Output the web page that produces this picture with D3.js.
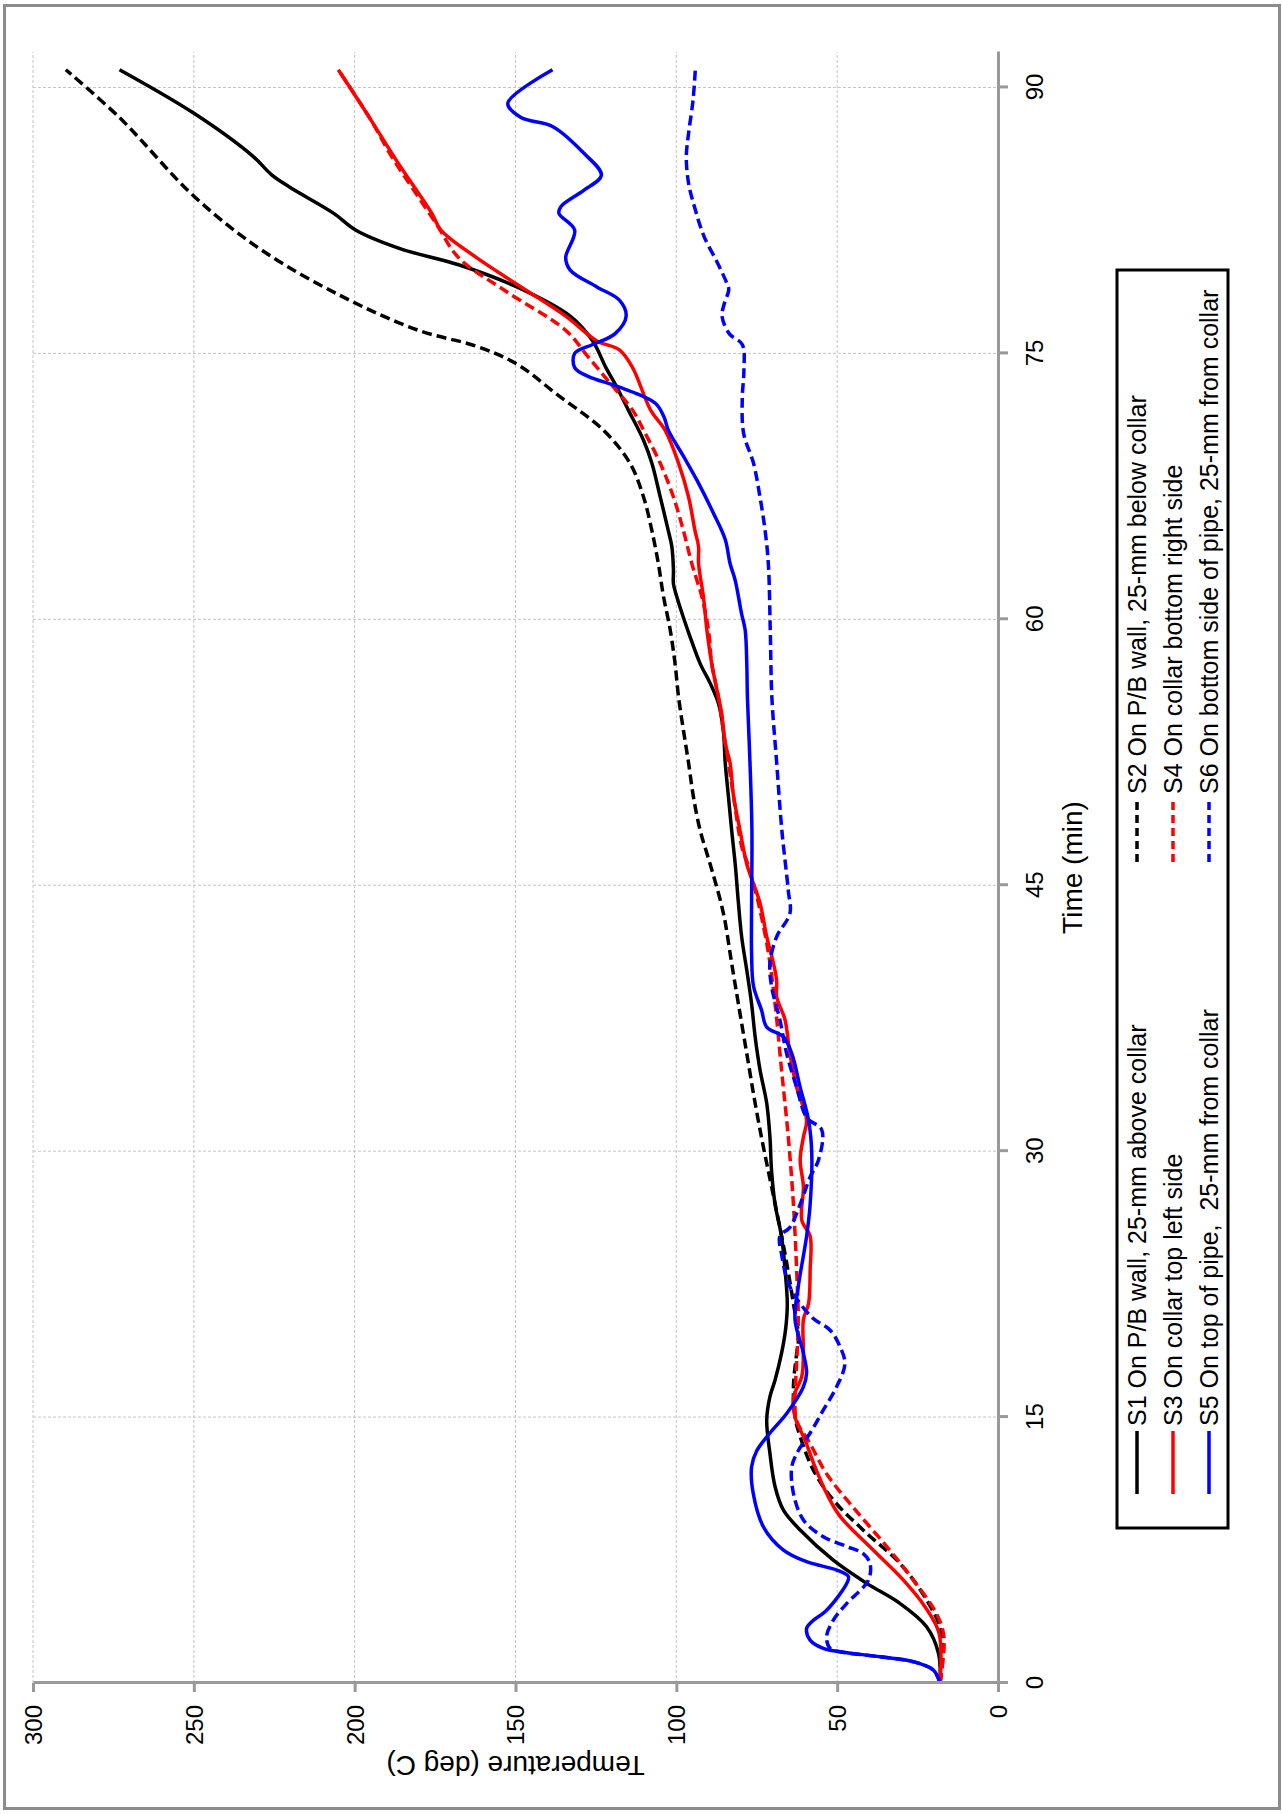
<!DOCTYPE html>
<html>
<head>
<meta charset="utf-8">
<script src="https://cdn.jsdelivr.net/npm/d3@7"></script>
<style>
  html, body { margin: 0; padding: 0; background: #fff; }
  svg { display: block; font-family: "Liberation Sans", Arial, sans-serif; }
</style>
</head>
<body>
<div id="chart"></div>
<script>
// ---------------- DATA ----------------
const timeTicks = [0, 15, 30, 45, 60, 75, 90];
const tempTicks = [0, 50, 100, 150, 200, 250, 300];
const timeDomain = [0, 92];
const tempDomain = [0, 300];
const xTitle = "Time (min)";
const yTitle = "Temperature (deg C)";

const seriesNames = [
  "S1 On P/B wall, 25-mm above collar",
  "S2 On P/B wall, 25-mm below collar",
  "S3 On collar top left side",
  "S4 On collar bottom right side",
  "S5 On top of pipe,  25-mm from collar",
  "S6 On bottom side of pipe, 25-mm from collar"
];

// [time (min), temperature (deg C)]
const s1 = [[0,18],[1.67,18.5],[3.17,22.2],[4.49,30.5],[5.62,40.8],[6.93,51.2],[8.63,61.5],[9.75,66.7],[11.07,69.3],[12.95,70.9],[14.83,71.9],[16.15,70.9],[17.09,69.3],[18.59,67.3],[20.0,66.0],[21.4,65.5],[23.3,66.2],[25.2,67.3],[27.0,69.3],[28.9,70.4],[30.8,70.9],[32.7,71.9],[34.6,74.0],[36.45,75.5],[38.3,76.6],[40.2,78.1],[42.1,79.7],[44.0,80.7],[46.2,81.7],[48.1,82.8],[50.0,83.8],[51.9,84.8],[53.75,85.4],[55.25,86.9],[56.4,89.5],[57.5,92.6],[59.0,95.7],[60.1,97.8],[61.3,99.9],[62.0,100.9],[62.8,100.9],[64.1,101.4],[65.0,102.5],[66.9,105.0],[68.8,107.6],[70.1,110.2],[71.8,114.9],[73.3,119.1],[74.2,121.9],[75.7,126.0],[77.1,133.0],[78.75,149.6],[80.0,167.7],[80.9,185.7],[81.95,199.6],[82.9,206.5],[84.4,220.4],[85.1,226.0],[86.1,231.5],[88.5,249.6],[91.0,273.1]];
const s2 = [[0,18],[2.8,17.5],[4.68,22.2],[6.75,30.5],[8.44,40.8],[10.32,51.2],[12.01,57.4],[13.89,61.5],[15.02,63.1],[16.71,63.6],[18.59,62.6],[19.5,62.0],[21.4,63.6],[24.2,66.2],[28.0,70.4],[30.2,72.9],[32.7,75.5],[35.5,78.1],[38.3,80.7],[40.6,82.8],[43.0,84.9],[44.2,86.4],[46.2,89.5],[48.1,92.6],[50.0,94.7],[51.9,96.2],[53.75,97.8],[55.6,99.3],[57.5,100.4],[59.4,101.9],[61.3,104.0],[63.15,105.6],[65.0,107.6],[66.9,110.2],[68.8,114.4],[70.67,122.7],[72.7,137.2],[74.4,149.6],[75.4,162.1],[76.3,180.2],[78.2,203.8],[80.8,228.7],[83.8,249.6],[88.3,273.1],[91.0,289.8]];
const s3 = [[0,18],[2.8,18.3],[4.3,22.7],[5.8,29.4],[7.5,38.8],[9.4,49.1],[10.7,53.3],[12.2,56.9],[13.7,60.0],[15.0,63.1],[16.1,63.6],[17.3,61.0],[18.6,60.5],[20.5,60.5],[21.4,58.9],[23.3,58.4],[25.2,58.4],[26.1,61.0],[28.0,60.5],[29.5,61.5],[30.8,60.5],[31.75,59.5],[33.6,62.6],[35.5,64.7],[37.4,66.2],[38.7,68.8],[39.6,68.8],[40.6,69.8],[42.1,71.9],[44.0,74.0],[46.2,78.1],[48.1,80.2],[50.0,82.2],[51.9,83.3],[53.0,84.8],[54.7,85.9],[55.6,86.9],[57.5,89.0],[59.4,90.5],[61.3,91.6],[63.15,93.1],[64.1,93.1],[65.0,94.2],[66.9,96.2],[68.8,99.3],[70.67,103.5],[71.8,108.0],[74.2,113.6],[75.2,117.7],[75.7,124.7],[77.1,134.4],[78.9,149.6],[80.4,162.1],[81.95,173.2],[82.9,176.0],[85.9,187.1],[88.3,195.4],[91.0,205.1]];
const s4 = [[0,18],[2.6,16.8],[3.9,19.1],[5.8,26.3],[7.7,34.6],[9.9,45.0],[11.8,53.3],[13.5,58.4],[14.8,62.6],[16.1,63.1],[18.0,62.6],[20.5,62.1],[23.3,62.6],[27.0,63.6],[30.8,65.2],[34.6,67.3],[38.3,69.3],[41.2,71.4],[44.0,74.5],[46.2,77.8],[47.2,79.7],[50.0,82.2],[51.9,83.8],[53.75,85.4],[55.6,86.9],[57.5,89.0],[59.4,90.0],[61.3,92.1],[62.2,93.6],[63.15,95.2],[65.0,97.8],[66.9,100.9],[68.8,105.0],[70.67,110.2],[71.8,113.6],[73.3,120.5],[74.8,127.4],[76.3,134.4],[78.6,153.8],[80.4,167.7],[82.3,174.6],[84.2,181.6],[86.1,188.5],[88.3,195.4],[91.0,205.1]];
const s5 = [[0,18],[0.73,20.1],[1.2,26.3],[1.48,36.7],[1.76,49.1],[1.95,54.3],[2.42,58.4],[3.08,59.5],[3.46,57.9],[4.1,53.3],[5.62,47.0],[6.0,46.5],[6.37,50.1],[6.84,59.5],[7.5,66.7],[8.8,72.9],[10.7,76.1],[12.2,76.6],[13.1,75.0],[14.1,70.9],[15.2,65.7],[16.7,60.5],[17.5,59.5],[18.6,60.5],[20.5,63.1],[22.35,62.1],[25.2,59.5],[27.0,58.4],[29.9,57.9],[31.75,58.9],[33.6,61.5],[35.5,64.1],[36.45,66.7],[37.0,71.9],[37.95,73.5],[39.3,76.0],[41.1,76.6],[44.0,76.6],[48.1,76.5],[51.9,77.1],[55.6,77.9],[57.5,78.1],[59.4,78.6],[60.3,79.7],[62.2,81.7],[63.15,83.3],[64.5,84.8],[66.0,88.5],[67.85,93.6],[69.2,97.8],[70.67,102.5],[71.4,103.8],[72.2,106.6],[73.1,117.7],[73.7,127.4],[74.2,131.6],[75.0,131.6],[75.5,126.0],[76.1,119.1],[77.1,115.6],[78.0,117.7],[78.75,124.7],[79.7,133.0],[80.4,134.4],[81.95,131.6],[82.9,136.5],[83.3,135.8],[84.2,128.8],[85.05,123.3],[86.3,128.8],[87.8,138.5],[88.3,148.3],[89.1,152.4],[91.0,138.5]];
const s6 = [[0,18],[0.73,20.1],[1.2,26.3],[1.48,36.7],[1.76,49.1],[1.95,52.2],[2.6,53.3],[3.55,51.2],[4.49,47.0],[5.8,40.3],[6.75,39.8],[7.3,41.9],[7.7,47.0],[8.25,54.3],[9.2,60.5],[10.7,63.6],[12.2,64.1],[13.1,62.1],[14.1,58.4],[15.4,54.3],[16.7,50.2],[18.0,47.6],[18.97,49.1],[19.9,52.2],[20.65,58.0],[22.35,64.7],[24.2,67.3],[25.2,67.8],[25.7,64.7],[27.0,61.5],[28.55,58.4],[29.5,55.8],[31.2,54.8],[31.9,59.5],[33.6,62.6],[35.5,65.7],[37.4,67.8],[39.3,70.4],[40.6,70.9],[42.1,68.8],[43.4,64.7],[44.7,65.2],[48.1,67.2],[51.9,68.8],[55.6,70.3],[59.4,70.8],[63.15,71.4],[65.0,72.4],[66.9,74.0],[68.8,76.0],[70.5,79.1],[72.5,79.5],[74.0,79.0],[75.5,79.5],[76.1,83.5],[77.1,85.8],[77.8,85.1],[78.6,83.7],[79.0,84.4],[80.1,87.2],[81.6,91.4],[83.1,94.1],[84.6,96.2],[86.1,96.9],[87.4,96.2],[89.3,94.8],[91.0,94.1]];

const seriesData = [s1, s2, s3, s4, s5, s6];

// ---------------- STYLE / LAYOUT ----------------
const W = 1282, H = 1814;
const colors = ["#000000", "#000000", "#ff0000", "#ff0000", "#0000ff", "#0000ff"];
const dashed = [false, true, false, true, false, true];

const svg = d3.select("#chart").append("svg")
  .attr("width", W).attr("height", H);

svg.append("rect").attr("width", W).attr("height", H).attr("fill", "#fff");

// outer frame
svg.append("rect")
  .attr("x", 4.5).attr("y", 5.5).attr("width", 1275).attr("height", 1803)
  .attr("fill", "none").attr("stroke", "#8c8c8c").attr("stroke-width", 3);

// The chart is drawn in its own frame, then rotated 90deg counter-clockwise.
const g = svg.append("g").attr("transform", `translate(0,${H}) rotate(-90)`);

const x = d3.scaleLinear().domain(timeDomain).range([131, 1762]);
const y = d3.scaleLinear().domain(tempDomain).range([998, 33]);

// gridlines
const grid = g.append("g").attr("stroke", "#c4c4c4").attr("stroke-width", 1)
  .attr("stroke-dasharray", "3,2");
grid.selectAll("line.v").data(timeTicks.filter(d => d > 0)).join("line")
  .attr("x1", d => x(d)).attr("x2", d => x(d))
  .attr("y1", y(300)).attr("y2", y(0));
grid.selectAll("line.h").data(tempTicks.filter(d => d > 0)).join("line")
  .attr("class", "h")
  .attr("x1", x(0)).attr("x2", x(92))
  .attr("y1", d => y(d)).attr("y2", d => y(d));

// series lines
const line = d3.line()
  .x(d => x(d[0])).y(d => y(d[1]))
  .curve(d3.curveCatmullRom.alpha(0.5));

g.append("g").selectAll("path").data(seriesData).join("path")
  .attr("d", d => line(d))
  .attr("fill", "none")
  .attr("stroke", (d, i) => colors[i])
  .attr("stroke-width", 3.5)
  .attr("stroke-linejoin", "round")
  .attr("stroke-dasharray", (d, i) => dashed[i] ? "10,5" : null);

// axes
const axisColor = "#999999";
const xAxis = g.append("g").attr("transform", `translate(0,${y(0)})`)
  .call(d3.axisBottom(x).tickValues(timeTicks).tickSize(10).tickSizeOuter(0));
const yAxis = g.append("g").attr("transform", `translate(${x(0)},0)`)
  .call(d3.axisLeft(y).tickValues(tempTicks).tickSize(9).tickSizeOuter(0));

[xAxis, yAxis].forEach(a => {
  a.select(".domain").attr("stroke", axisColor).attr("stroke-width", 3);
  a.selectAll(".tick line").attr("stroke", axisColor).attr("stroke-width", 3);
  a.selectAll(".tick text").attr("fill", "#000")
    .attr("font-size", 24).attr("font-family", "Liberation Sans, Arial, sans-serif");
});
xAxis.selectAll(".tick text").attr("y", 37).attr("dy", "0.35em");
yAxis.selectAll(".tick text").attr("x", -22).attr("dy", "0.35em");

// axis titles
g.append("text")
  .attr("x", (x(0) + x(92)) / 2).attr("y", 1072)
  .attr("dy", "0.35em")
  .attr("text-anchor", "middle").attr("font-size", 28).attr("fill", "#000")
  .text(xTitle);
g.append("text")
  .attr("transform", `translate(48,${(y(0) + y(300)) / 2}) rotate(-90)`)
  .attr("dy", "0.35em")
  .attr("text-anchor", "middle").attr("font-size", 28).attr("fill", "#000")
  .text(yTitle);

// legend
const leg = g.append("g");
leg.append("rect")
  .attr("x", 286).attr("y", 1117).attr("width", 1258).attr("height", 111)
  .attr("fill", "#fff").attr("stroke", "#000").attr("stroke-width", 3);
const rowY = [1137, 1173, 1209];
const colX = [320, 952];
seriesNames.forEach((name, i) => {
  const col = i % 2, row = Math.floor(i / 2);
  const x0 = colX[col], yy = rowY[row];
  leg.append("line")
    .attr("x1", x0).attr("x2", x0 + 63).attr("y1", yy).attr("y2", yy)
    .attr("stroke", colors[i]).attr("stroke-width", 3.5)
    .attr("stroke-dasharray", dashed[i] ? "8,5" : null);
  leg.append("text")
    .attr("x", x0 + 68).attr("y", yy).attr("dy", "0.35em")
    .attr("font-size", 25).attr("fill", "#000")
    .style("white-space", "pre")
    .text(name);
});
</script>
</body>
</html>
